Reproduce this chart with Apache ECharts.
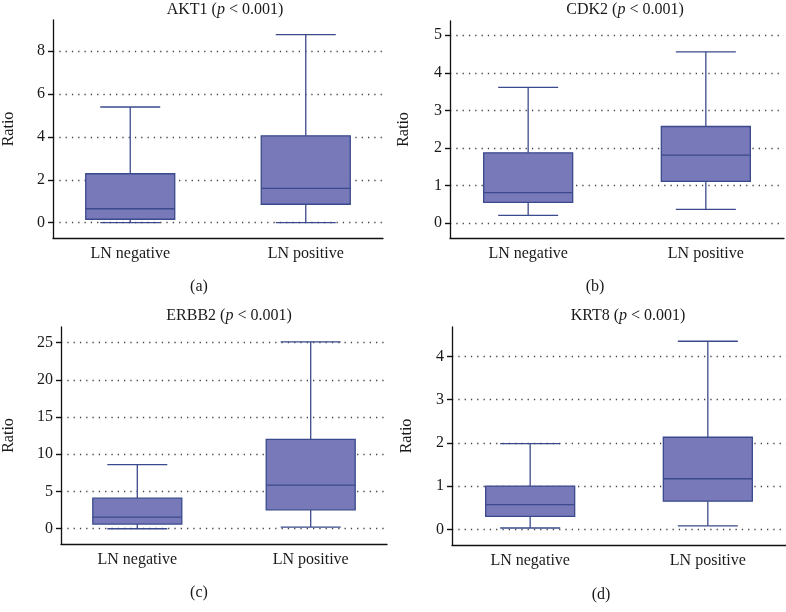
<!DOCTYPE html>
<html>
<head>
<meta charset="utf-8">
<script src="https://cdn.jsdelivr.net/npm/echarts@6/dist/echarts.min.js"></script>
<style>
html,body{margin:0;padding:0;background:#fff;}
#chart{width:786px;height:612px;}
</style>
</head>
<body>
<div id="chart"></div>
<script>
// ---- data ----
var categories = ['LN negative', 'LN positive'];
var panelTitles = ['AKT1', 'CDK2', 'ERBB2', 'KRT8'];
var panelLetters = ['(a)', '(b)', '(c)', '(d)'];
// [min, Q1, median, Q3, max]
var akt1Neg = [0, 0.16, 0.65, 2.28, 5.39];
var akt1Pos = [0, 0.86, 1.60, 4.05, 8.76];
var cdk2Neg = [0.20, 0.55, 0.81, 1.87, 3.61];
var cdk2Pos = [0.36, 1.11, 1.81, 2.57, 4.56];
var erbb2Neg = [0, 0.63, 1.56, 4.11, 8.62];
var erbb2Pos = [0.22, 2.54, 5.85, 12.0, 25.1];
var krt8Neg = [0.03, 0.30, 0.57, 1.00, 1.98];
var krt8Pos = [0.08, 0.65, 1.17, 2.13, 4.35];
// tick labels
var akt1Ticks = [0, 2, 4, 6, 8];
var cdk2Ticks = [0, 1, 2, 3, 4, 5];
var erbb2Ticks = [0, 5, 10, 15, 20, 25];
var krt8Ticks = [0, 1, 2, 3, 4];

// ---- layout / style ----
var FONT = 'Liberation Serif';
var boxFill = '#7879b8';
var boxLine = '#3b4a8c';
var X_MIN = -0.44, X_MAX = 1.44;
var panels = [
  {neg: akt1Neg, pos: akt1Pos, ticks: akt1Ticks, yMin: -0.713, yMax: 9.445,
   grid: {left: 49, top: 20, width: 334, height: 218}, nameGap: 36,
   titleX: 220, titleY: -3, letterX: 194, letterY: 274},
  {neg: cdk2Neg, pos: cdk2Pos, ticks: cdk2Ticks, yMin: -0.40, yMax: 5.38,
   grid: {left: 450, top: 21, width: 334, height: 217}, nameGap: 38,
   titleX: 620, titleY: -3, letterX: 590, letterY: 274},
  {neg: erbb2Neg, pos: erbb2Pos, ticks: erbb2Ticks, yMin: -2.05, yMax: 27.09,
   grid: {left: 53, top: 327, width: 334, height: 217}, nameGap: 44,
   titleX: 224, titleY: 303, letterX: 194, letterY: 580},
  {neg: krt8Neg, pos: krt8Pos, ticks: krt8Ticks, yMin: -0.363, yMax: 4.68,
   grid: {left: 452, top: 327, width: 334, height: 218}, nameGap: 37,
   titleX: 623, titleY: 303, letterX: 596, letterY: 582}
];

function renderBox(params, api) {
  var x = api.value(0);
  var pMin = api.coord([x, api.value(1)]);
  var pQ1 = api.coord([x, api.value(2)]);
  var pMed = api.coord([x, api.value(3)]);
  var pQ3 = api.coord([x, api.value(4)]);
  var pMax = api.coord([x, api.value(5)]);
  var cx = pMin[0];
  var hw = 44.5, cw = 30;
  var ls = {stroke: boxLine, lineWidth: 1.3};
  return {
    type: 'group',
    children: [
      {type: 'line', shape: {x1: cx, y1: pMax[1], x2: cx, y2: pQ3[1]}, style: ls},
      {type: 'line', shape: {x1: cx, y1: pQ1[1], x2: cx, y2: pMin[1]}, style: ls},
      {type: 'line', shape: {x1: cx - cw, y1: pMax[1], x2: cx + cw, y2: pMax[1]}, style: ls},
      {type: 'line', shape: {x1: cx - cw, y1: pMin[1], x2: cx + cw, y2: pMin[1]}, style: ls},
      {type: 'rect', shape: {x: cx - hw, y: pQ3[1], width: 2 * hw, height: pQ1[1] - pQ3[1]},
       style: {fill: boxFill, stroke: boxLine, lineWidth: 1.3}},
      {type: 'line', shape: {x1: cx - hw, y1: pMed[1], x2: cx + hw, y2: pMed[1]}, style: ls}
    ]
  };
}

var option = {
  animation: false,
  backgroundColor: '#fff',
  title: [], grid: [], xAxis: [], yAxis: [], series: []
};

panels.forEach(function (p, i) {
  option.title.push({
    text: '{n|' + panelTitles[i] + ' (}{i|p}{n| < 0.001)}',
    left: p.titleX, top: p.titleY, textAlign: 'center',
    textStyle: {
      rich: {
        n: {fontFamily: FONT, fontSize: 16, color: '#1a1a1a', fontWeight: 'normal'},
        i: {fontFamily: FONT, fontSize: 16, color: '#1a1a1a', fontStyle: 'italic', fontWeight: 'normal'}
      }
    }
  });
  option.title.push({
    text: panelLetters[i], left: p.letterX, top: p.letterY, textAlign: 'center',
    textStyle: {fontFamily: FONT, fontSize: 16, color: '#1a1a1a', fontWeight: 'normal'}
  });
  option.grid.push(p.grid);
  option.xAxis.push({
    type: 'value', gridIndex: i, min: X_MIN, max: X_MAX,
    axisLine: {show: true, onZero: false, lineStyle: {color: '#111', width: 1.3}},
    axisTick: {show: false},
    splitLine: {show: false},
    axisLabel: {
      customValues: [0, 1], margin: 8,
      fontFamily: FONT, fontSize: 16, color: '#1a1a1a',
      formatter: function (v) { return categories[Math.round(v)]; }
    }
  });
  option.yAxis.push({
    type: 'value', gridIndex: i, min: p.yMin, max: p.yMax,
    name: 'Ratio', nameLocation: 'middle', nameGap: p.nameGap,
    nameTextStyle: {fontFamily: FONT, fontSize: 16, color: '#1a1a1a'},
    axisLine: {show: true, onZero: false, lineStyle: {color: '#111', width: 1.3}},
    axisTick: {show: true, customValues: p.ticks, length: 5, lineStyle: {color: '#111', width: 1.4}},
    axisLabel: {customValues: p.ticks, margin: 8, fontFamily: FONT, fontSize: 16, color: '#1a1a1a'},
    splitLine: {show: true, lineStyle: {color: '#444', width: 1.3, type: [1.3, 5]}}
  });
  option.series.push({
    type: 'custom', xAxisIndex: i, yAxisIndex: i,
    renderItem: renderBox,
    encode: {x: 0, y: [1, 2, 3, 4, 5]},
    data: [[0].concat(p.neg), [1].concat(p.pos)],
    clip: false
  });
});

var chart = echarts.init(document.getElementById('chart'), null, {renderer: 'canvas'});
chart.setOption(option);
</script>
</body>
</html>
